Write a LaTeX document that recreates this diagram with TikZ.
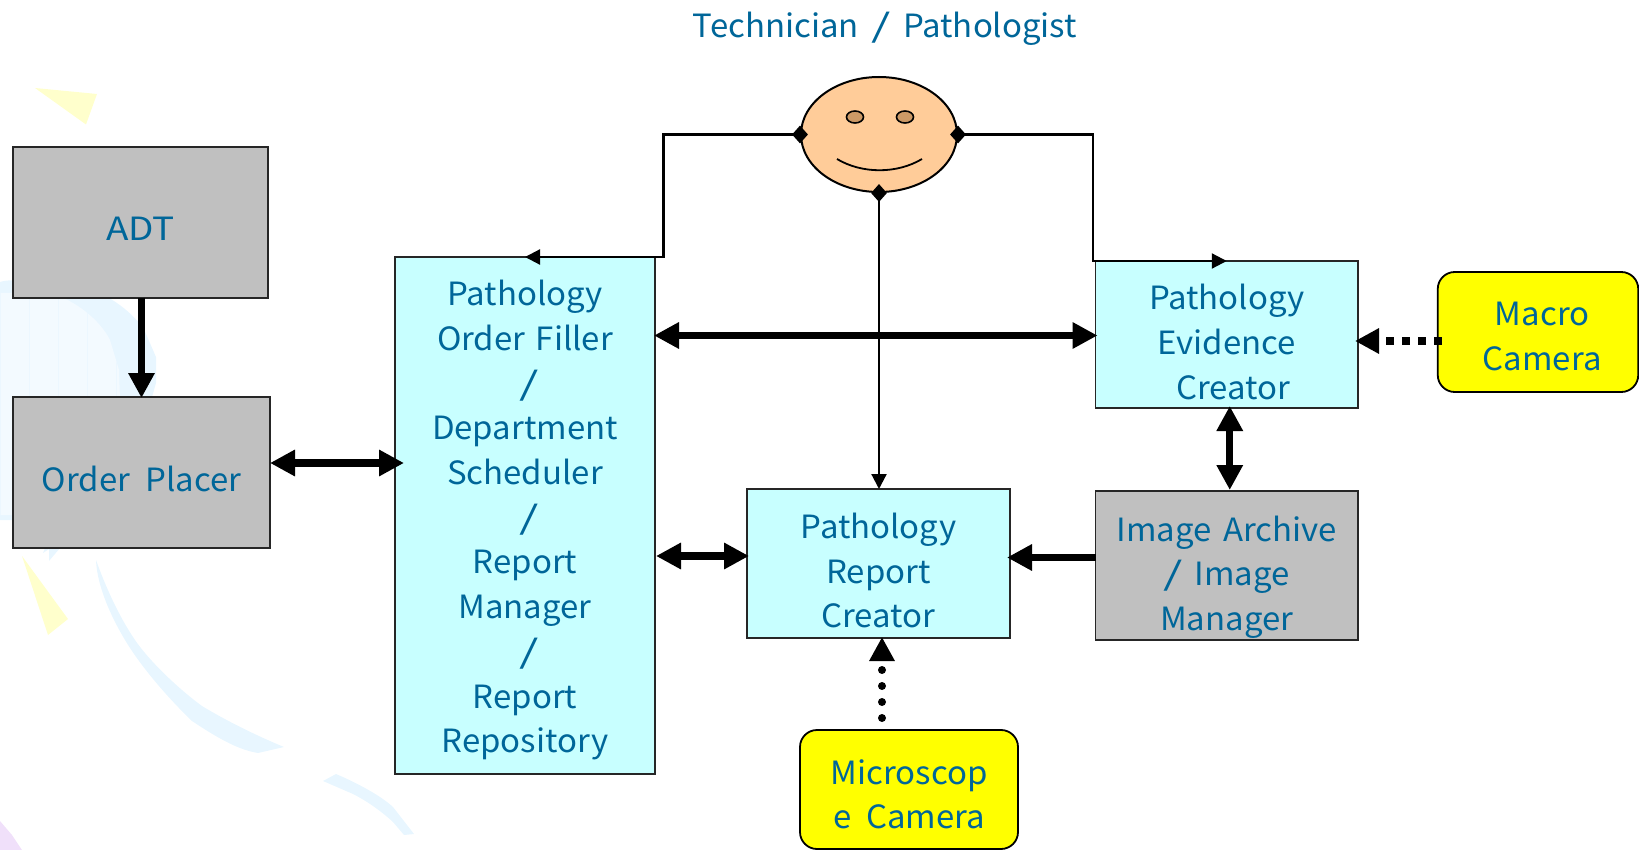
\documentclass[tikz,border=0pt]{standalone}
\usepackage{fontspec}
\usepackage{graphicx}
\setmainfont[FakeStretch=1.03]{Noto Sans CJK JP}
\usetikzlibrary{arrows.meta,shapes.geometric,calc}
\definecolor{ink}{HTML}{006699}
\definecolor{graybox}{HTML}{C0C0C0}
\definecolor{cyanbox}{HTML}{C8FFFF}
\definecolor{camera}{HTML}{FFFF00}
\definecolor{skin}{HTML}{FFCC99}
\definecolor{eye}{HTML}{CC9966}
\definecolor{ribbon}{HTML}{E8F6FF}
\definecolor{blobin}{HTML}{F3FAFF}
\definecolor{gridc}{HTML}{ECF7FF}
\definecolor{paleyellow}{HTML}{FFFFCC}
\definecolor{palepurple}{HTML}{F0E0FA}
\newcommand{\lines}[2]{\raisebox{#1}[0pt][0pt]{\begin{tabular}{@{}c@{}}#2\end{tabular}}}
\newcommand{\slsh}{\scalebox{1.5}[1]{/}}
\newcommand{\cslsh}{\hspace*{8pt}\slsh}
\tikzset{
  x=1pt,y=-1pt,
  box/.style={draw=black!85,line width=1.8pt,inner sep=0pt,outer sep=0pt,text=ink,anchor=center,
    font=\fontsize{32}{44.7}\selectfont},
  grayb/.style={box,fill=graybox},
  cyanb/.style={box,fill=cyanbox},
  camb/.style={box,fill=camera,draw=black,rounded corners=17pt},
  thick arrow/.style={line width=7.5pt,{Triangle[length=25pt,width=25pt]}-{Triangle[length=25pt,width=25pt]}},
  one arrow/.style={line width=7.5pt,-{Triangle[length=25pt,width=25pt]}},
  thin arrow/.style={line width=2.2pt,-{Triangle[length=15pt,width=15pt]}},
  dia/.style={diamond,fill=black,inner sep=0pt,minimum width=16pt,minimum height=18pt},
}
\begin{document}
\begin{tikzpicture}
\useasboundingbox (0,0) rectangle (1639,850);
% background decoration
\fill[ribbon] (0,282) .. controls (8,279) and (30,280) .. (60,283) .. controls (95,287) and (120,300) .. (143,327)
  -- (156,357) -- (156,383) -- (140,440) -- (60,500) -- (13,520) -- (0,520) -- cycle;
\begin{scope}
\clip (0,293) -- (50,293) .. controls (75,300) and (100,320) .. (110,340) -- (119,370) -- (120,400) -- (13,515) -- (0,515) -- cycle;
\fill[blobin] (0,280) rectangle (125,520);
\draw[gridc,line width=0.8pt] (0,280) grid[xstep=29,ystep=29] (125,520);
\end{scope}
\fill[ribbon] (45,548) -- (43,553) -- (49,549) -- (49,561) -- (60,548) -- cycle;
\fill[paleyellow] (35,88) -- (97,94) -- (86,124.5) -- cycle;
\fill[paleyellow] (22,556) -- (68,619) -- (48,635) -- cycle;
\fill[ribbon] (96,560) .. controls (105,585) and (118,615) .. (135,640) .. controls (150,662) and (180,690) .. (202,706)
  .. controls (225,720) and (255,735) .. (284,747) -- (258,753) .. controls (240,750) and (222,741) .. (192,721)
  .. controls (165,695) and (140,665) .. (125,640) .. controls (110,615) and (97,585) .. (96,560) -- cycle;
\fill[ribbon] (323,781) -- (336,774) .. controls (355,782) and (380,795) .. (393,807) -- (414,834) -- (404,835) -- (393,822)
  .. controls (380,810) and (365,800) .. (353,794) -- cycle;
\fill[palepurple] (0,821) -- (12,835) -- (22,850) -- (0,850) -- cycle;
% boxes
\node[grayb,minimum width=255pt,minimum height=151pt] (adt) at (140.5,222.5) {\lines{-15.3pt}{\scalebox{1.12}[1]{ADT}}};
\node[grayb,minimum width=257pt,minimum height=151pt] (op) at (141.5,472.5) {\lines{-16.4pt}{Order\hspace{8pt} Placer}};
\node[cyanb,minimum width=260pt,minimum height=517pt] (fil) at (525,515.5) {\lines{-11pt}{Pathology\\Order\hspace{3pt} Filler\\\cslsh\\Department\\Scheduler\\\cslsh\\Report\\Manager\\\cslsh\\Report\\Repository}};
\node[cyanb,minimum width=262.5pt,minimum height=147pt] (evi) at (1226.75,334.5) {\lines{-17.4pt}{Pathology\\Evidence\\\hspace*{12.5pt}Creator}};
\node[cyanb,minimum width=263pt,minimum height=149pt] (rep) at (878.5,563.5) {\lines{-16.8pt}{Pathology\\Report\\Creator}};
\node[grayb,minimum width=262.5pt,minimum height=149pt] (img) at (1226.75,565.5) {\lines{-17.6pt}{Image\hspace{4pt} Archive\\\slsh\hspace{4pt} Image\\Manager}};
\node[camb,minimum width=200.5pt,minimum height=120pt] (mac) at (1538,332) {\hspace*{8.4pt}\lines{-13.2pt}{Macro\\Camera}};
\node[camb,minimum width=218pt,minimum height=119pt] (mic) at (909,789.5) {\lines{-14.3pt}{Microscop\\e~~Camera}};
% person
\node[draw=black,line width=2pt,fill=skin,ellipse,minimum width=156pt,minimum height=115pt,inner sep=0pt] (face) at (879,134.5) {};
\node[draw=black,line width=1.6pt,fill=eye,ellipse,minimum width=17pt,minimum height=12pt,inner sep=0pt] (eyeL) at (855,117) {};
\node[draw=black,line width=1.6pt,fill=eye,ellipse,minimum width=17pt,minimum height=12pt,inner sep=0pt] (eyeR) at (905,117) {};
\draw[line width=1.8pt] (837,159) .. controls (862,174) and (897,174) .. (922,159);
\node[text=ink,inner sep=0pt,font=\fontsize{32}{40}\selectfont] (title) at (885,29) {Technician\hspace{5pt} \slsh\hspace{5pt} Pathologist};
\node[dia] (dL) at (face.west) {};
\node[dia] (dR) at (face.east) {};
\node[dia] (dB) at (face.south) {};
\coordinate (elbowL) at (663.5,257);
\coordinate (elbowR) at (1093,261);
% connectors
\draw[thin arrow] (dL.center) -| (elbowL) -- (fil.north);
\draw[thin arrow] (dR.center) -| (elbowR) -- (evi.north);
\draw[thin arrow] (dB.center) -- (dB.center |- rep.north);
\draw[one arrow] (op.north |- adt.south) -- ([yshift=-1pt]op.north);
\draw[thick arrow] ([xshift=0pt,yshift=9.5pt]op.east) -- ([xshift=9pt,yshift=52.5pt]fil.west);
\draw[thick arrow] ([xshift=-1pt,yshift=180pt]fil.east) -- ([xshift=2pt,yshift=-1pt]evi.west);
\draw[thick arrow] ([xshift=1pt,yshift=-40.5pt]fil.east) -- ([xshift=2pt,yshift=7.5pt]rep.west);
\draw[one arrow] ([yshift=8pt]img.west) -- ([xshift=-3pt,yshift=6pt]rep.east);
\draw[line width=7pt,{Triangle[length=25pt,width=25pt]}-{Triangle[length=25pt,width=25pt]}] ([xshift=3pt,yshift=2pt]evi.south) -- ([xshift=3pt,yshift=1pt]img.north);
\draw[line width=8pt,dash pattern=on 8pt off 8pt,-{Triangle[length=24pt,width=24pt]}] ([xshift=4pt,yshift=-9pt]mac.west) -- ([xshift=-3pt,yshift=-6.5pt]evi.east);
\draw[line width=8pt,line cap=round,dash pattern=on 0pt off 16pt,-{Triangle[length=24pt,width=24pt]}] ([xshift=-27pt,yshift=12pt]mic.north) -- ([xshift=3.5pt,yshift=1pt]rep.south);
\end{tikzpicture}
\end{document}
